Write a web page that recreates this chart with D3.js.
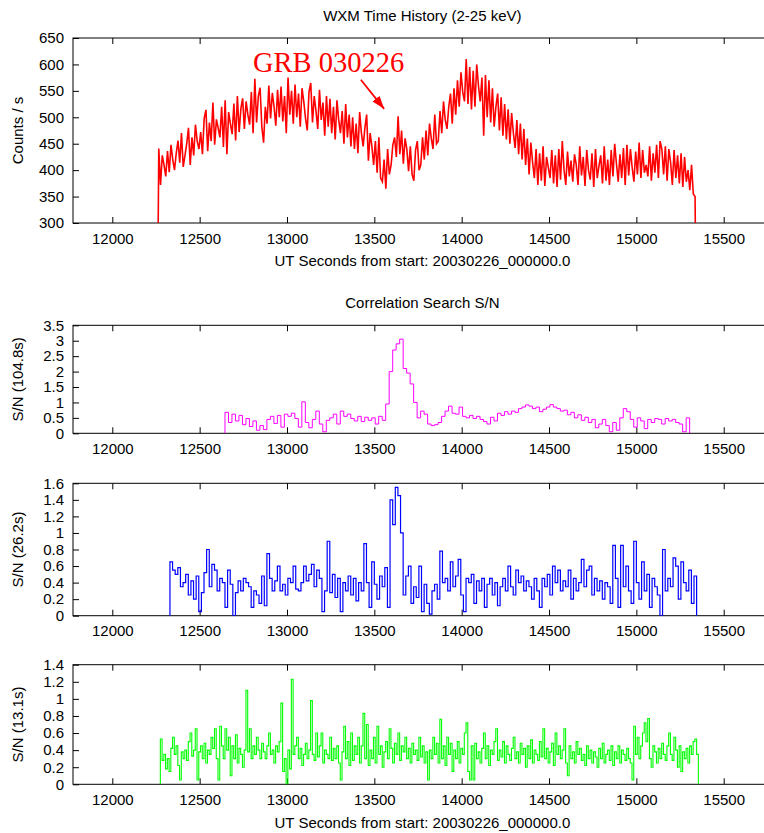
<!DOCTYPE html>
<html>
<head>
<meta charset="utf-8">
<script src="https://cdn.jsdelivr.net/npm/d3@7"></script>
<style>
  body { margin: 0; background: #fff; }
  svg { display: block; font-family: "Liberation Sans", Arial, Helvetica, sans-serif; }
</style>
</head>
<body>
<svg id="chart" width="764" height="833"></svg>
<script>
// ---- tick values ----
const xTicks = [12000, 12500, 13000, 13500, 14000, 14500, 15000, 15500];
const countTicks = [300, 350, 400, 450, 500, 550, 600, 650];
const sn104Ticks = [0, 0.5, 1, 1.5, 2, 2.5, 3, 3.5];
const sn26Ticks = [0, 0.2, 0.4, 0.6, 0.8, 1, 1.2, 1.4, 1.6];
const sn13Ticks = [0, 0.2, 0.4, 0.6, 0.8, 1, 1.2, 1.4];

// ---- WXM count rate (counts/s), 10 s bins ----
const countStart = 12256, countStep = 10;
const counts = [
  0, 441, 372, 428, 410, 388, 436, 396, 448, 420,
  400, 432, 456, 414, 470, 406, 428, 450, 480, 410,
  462, 428, 486, 455, 440, 472, 430, 498, 514, 436,
  490, 455, 528, 448, 496, 480, 462, 520, 444, 532,
  430, 510, 488, 468, 526, 456, 540, 472, 516, 536,
  478, 530, 505, 486, 548, 470, 573, 490, 540, 556,
  482, 452, 520, 488, 560, 498, 546, 520, 484, 552,
  500, 558, 492, 540, 470, 575, 505, 550, 488, 562,
  500, 545, 482, 555, 530, 498, 475, 548, 565, 490,
  540, 512, 478, 552, 495, 528, 465, 540, 482, 535,
  470, 520, 458, 532, 495, 470, 512, 450, 525, 462,
  505, 445, 500, 440, 488, 432, 510, 470, 445, 480,
  505, 418, 470, 445, 410, 455, 395, 462, 385, 378,
  420, 365, 440, 392, 410, 448, 462, 425, 502, 430,
  475, 412, 460, 440, 398, 445, 392, 380, 438, 455,
  400, 410, 462, 420, 475, 428, 488, 460, 440, 505,
  450, 455, 512, 470, 530, 495, 478, 520, 545, 488,
  555, 505, 570, 520, 585, 548, 530, 610, 525, 595,
  515, 588, 520, 600, 560, 530, 575, 465, 580, 500,
  570, 490, 555, 482, 520, 545, 475, 538, 465, 525,
  458, 515, 450, 508, 470, 442, 495, 430, 488, 420,
  478, 410, 460, 392, 452, 415, 385, 440, 372, 432,
  380, 445, 370, 425, 405, 385, 438, 375, 428, 368,
  440, 382, 455, 400, 372, 435, 388, 418, 378, 430,
  410, 372, 445, 390, 425, 370, 438, 400, 382, 432,
  368, 440, 385, 408, 428, 375, 445, 380, 420, 372,
  438, 388, 450, 412, 378, 430, 385, 442, 372, 448,
  390, 440, 405, 378, 435, 392, 452, 385, 438, 395,
  410, 388, 445, 380, 432, 395, 448, 385, 455, 440,
  392, 445, 380, 440, 415, 372, 438, 385, 428, 375,
  432, 368, 425, 378, 400, 362, 410, 355, 350, 0
];

// ---- correlation S/N, 104.8 s window (20 s steps) ----
const sn104Start = 12645, sn104Step = 20;
const sn104 = [
  0.68, 0.35, 0.62, 0.40, 0.58, 0.28, 0.48, 0.22, 0.40, 0.10,
  0.25, 0.12, 0.45, 0.55, 0.32, 0.58, 0.20, 0.62, 0.55, 0.65,
  0.48, 0.20, 1.02, 0.35, 0.18, 0.45, 0.72, 0.30, 0.05, 0.42,
  0.50, 0.62, 0.30, 0.72, 0.55, 0.62, 0.48, 0.40, 0.55, 0.38,
  0.52, 0.42, 0.50, 0.30, 0.55, 0.42, 0.95, 2.00, 2.70, 2.90,
  3.05, 2.10, 1.95, 1.60, 1.00, 0.50, 0.72, 0.62, 0.30, 0.25,
  0.28, 0.35, 0.55, 0.72, 0.88, 0.65, 0.62, 0.85, 0.55, 0.50,
  0.58, 0.48, 0.55, 0.45, 0.38, 0.30, 0.52, 0.40, 0.65, 0.58,
  0.70, 0.62, 0.72, 0.68, 0.80, 0.85, 0.92, 0.88, 0.80, 0.85,
  0.70, 0.78, 0.85, 0.93, 0.85, 0.80, 0.72, 0.75, 0.60, 0.68,
  0.50, 0.60, 0.42, 0.52, 0.35, 0.45, 0.18, 0.30, 0.45, 0.25,
  0.05, 0.35, 0.10, 0.50, 0.80, 0.70, 0.45, 0.20, 0.50, 0.40,
  0.15, 0.45, 0.35, 0.48, 0.45, 0.30, 0.48, 0.40, 0.45, 0.35,
  0.30, 0.05, 0.50
];

// ---- correlation S/N, 26.2 s window (15 s steps) ----
const sn26Start = 12330, sn26Step = 15;
const sn26 = [
  0.65, 0.55, 0.50, 0.58, 0.35, 0.40, 0.50, 0.25, 0.42, 0.20,
  0.48, 0.05, 0.28, 0.52, 0.80, 0.35, 0.62, 0.55, 0.30, 0.45,
  0.40, 0.10, 0.55, 0.38, 0.00, 0.28, 0.42, 0.30, 0.45, 0.40,
  0.35, 0.10, 0.30, 0.25, 0.15, 0.48, 0.12, 0.75, 0.45, 0.30,
  0.42, 0.60, 0.30, 0.38, 0.25, 0.45, 0.40, 0.60, 0.32, 0.30,
  0.40, 0.60, 0.42, 0.50, 0.62, 0.35, 0.55, 0.45, 0.05, 0.30,
  0.90, 0.28, 0.50, 0.22, 0.45, 0.05, 0.40, 0.30, 0.48, 0.25,
  0.45, 0.18, 0.40, 0.30, 0.87, 0.40, 0.10, 0.65, 0.38, 0.20,
  0.48, 0.35, 0.58, 0.10, 1.40, 1.10, 1.55, 1.45, 1.00, 0.25,
  0.48, 0.60, 0.15, 0.35, 0.22, 0.60, 0.05, 0.38, 0.15, 0.02,
  0.30, 0.38, 0.20, 0.78, 0.40, 0.45, 0.30, 0.65, 0.35, 0.48,
  0.68, 0.25, 0.05, 0.45, 0.40, 0.50, 0.15, 0.42, 0.30, 0.45,
  0.10, 0.38, 0.45, 0.25, 0.40, 0.12, 0.35, 0.45, 0.30, 0.60,
  0.35, 0.25, 0.55, 0.40, 0.48, 0.30, 0.42, 0.35, 0.20, 0.45,
  0.30, 0.10, 0.45, 0.35, 0.50, 0.25, 0.60, 0.40, 0.55, 0.30,
  0.42, 0.35, 0.55, 0.20, 0.45, 0.30, 0.40, 0.68, 0.35, 0.55,
  0.60, 0.25, 0.45, 0.30, 0.42, 0.20, 0.40, 0.35, 0.15, 0.85,
  0.45, 0.10, 0.85, 0.35, 0.60, 0.30, 0.15, 0.90, 0.40, 0.20,
  0.65, 0.30, 0.50, 0.10, 0.45, 0.35, 0.25, 0.00, 0.80, 0.30,
  0.45, 0.35, 0.70, 0.60, 0.20, 0.65, 0.40, 0.30, 0.55, 0.15,
  0.48
];

// ---- correlation S/N, 13.1 s window (10 s steps) ----
const sn13Start = 12275, sn13Step = 10;
const sn13 = [
  0.53, 0.28, 0.35, 0.18, 0.30, 0.15, 0.42, 0.55, 0.35, 0.45,
  0.22, 0.05, 0.38, 0.30, 0.40, 0.28, 0.50, 0.60, 0.33, 0.40,
  0.65, 0.05, 0.38, 0.45, 0.30, 0.48, 0.25, 0.40, 0.35, 0.55,
  0.42, 0.65, 0.30, 0.05, 0.68, 0.45, 0.30, 0.65, 0.40, 0.55,
  0.10, 0.45, 0.30, 0.58, 0.25, 0.42, 0.35, 0.20, 0.40, 1.10,
  0.38, 0.65, 0.30, 0.45, 0.35, 0.55, 0.40, 0.30, 0.48, 0.38,
  0.30, 0.45, 0.60, 0.35, 0.40, 0.25, 0.45, 0.38, 0.50, 0.95,
  0.15, 0.30, 0.00, 0.40, 0.18, 1.23, 0.35, 0.45, 0.55, 0.30,
  0.42, 0.22, 0.35, 0.48, 0.30, 0.40, 0.98, 0.35, 0.28, 0.60,
  0.32, 0.45, 0.60, 0.25, 0.40, 0.35, 0.30, 0.55, 0.28, 0.42,
  0.30, 0.45, 0.25, 0.05, 0.38, 0.68, 0.30, 0.50, 0.22, 0.60,
  0.28, 0.45, 0.35, 0.55, 0.25, 0.45, 0.83, 0.30, 0.70, 0.22,
  0.40, 0.30, 0.55, 0.25, 0.68, 0.35, 0.45, 0.20, 0.38, 0.50,
  0.30, 0.65, 0.42, 0.25, 0.48, 0.35, 0.60, 0.28, 0.45, 0.38,
  0.55, 0.30, 0.42, 0.25, 0.48, 0.35, 0.40, 0.28, 0.55, 0.32,
  0.45, 0.25, 0.38, 0.05, 0.40, 0.30, 0.55, 0.35, 0.48, 0.25,
  0.76, 0.30, 0.45, 0.22, 0.55, 0.35, 0.48, 0.15, 0.40, 0.30,
  0.50, 0.25, 0.42, 0.35, 0.60, 0.72, 0.15, 0.05, 0.45, 0.05,
  0.48, 0.30, 0.38, 0.25, 0.42, 0.60, 0.30, 0.45, 0.22, 0.40,
  0.35, 0.50, 0.65, 0.28, 0.40, 0.32, 0.50, 0.25, 0.45, 0.35,
  0.28, 0.42, 0.55, 0.30, 0.38, 0.25, 0.48, 0.35, 0.42, 0.20,
  0.45, 0.30, 0.52, 0.25, 0.40, 0.35, 0.28, 0.50, 0.32, 0.65,
  0.30, 0.42, 0.25, 0.38, 0.48, 0.22, 0.60, 0.35, 0.45, 0.30,
  0.40, 0.65, 0.25, 0.10, 0.45, 0.30, 0.38, 0.25, 0.50, 0.35,
  0.42, 0.28, 0.35, 0.22, 0.45, 0.30, 0.40, 0.25, 0.38, 0.32,
  0.20, 0.42, 0.30, 0.48, 0.25, 0.35, 0.40, 0.28, 0.45, 0.22,
  0.38, 0.30, 0.45, 0.25, 0.40, 0.35, 0.28, 0.42, 0.30, 0.25,
  0.05, 0.68, 0.35, 0.55, 0.30, 0.45, 0.60, 0.72, 0.50, 0.77,
  0.30, 0.20, 0.45, 0.38, 0.25, 0.42, 0.30, 0.48, 0.35, 0.28,
  0.45, 0.60, 0.35, 0.28, 0.55, 0.40, 0.20, 0.45, 0.15, 0.38,
  0.30, 0.42, 0.25, 0.45, 0.35, 0.50, 0.53, 0.35
];

// ---- layout ----
const svg = d3.select("#chart");
const FONT = 15;
const plotLeft = 73;
const x = d3.scaleLinear().domain([11775, 15775]).range([plotLeft, plotLeft + 4000 * 0.174686]);
const plotRight = x.range()[1];

const panels = [
  { id: "p0", top: 38,    bottom: 223,   domain: [300, 650], ticks: countTicks, label: "Counts / s" },
  { id: "p1", top: 325.3, bottom: 433.3, domain: [0, 3.5],   ticks: sn104Ticks, label: "S/N (104.8s)" },
  { id: "p2", top: 483.3, bottom: 615.7, domain: [0, 1.6],   ticks: sn26Ticks,  label: "S/N (26.2s)" },
  { id: "p3", top: 664.7, bottom: 784.3, domain: [0, 1.4],   ticks: sn13Ticks,  label: "S/N (13.1s)" }
];

const defs = svg.append("defs");
defs.append("marker")
  .attr("id", "head").attr("markerUnits", "userSpaceOnUse")
  .attr("markerWidth", 14).attr("markerHeight", 10)
  .attr("refX", 13).attr("refY", 4.5).attr("orient", "auto")
  .append("path").attr("d", "M0,0 L13,4.5 L0,9 Z").attr("fill", "#ff0000");

panels.forEach(p => {
  p.y = d3.scaleLinear().domain(p.domain).range([p.bottom, p.top]);
  defs.append("clipPath").attr("id", "clip-" + p.id)
    .append("rect").attr("x", plotLeft).attr("y", p.top)
    .attr("width", plotRight - plotLeft).attr("height", p.bottom - p.top);

  const g = svg.append("g");
  // bottom axis with inward ticks and labels
  g.append("g").attr("transform", `translate(0,${p.bottom})`)
    .call(d3.axisBottom(x).tickValues(xTicks).tickSize(-6).tickPadding(10).tickFormat(d3.format("d")))
    .call(a => a.select(".domain").remove())
    .call(a => a.selectAll("text").attr("font-size", FONT).attr("font-family", null).attr("fill", "#000"));
  // mirrored ticks along the top border
  g.append("g").attr("transform", `translate(0,${p.top})`)
    .call(d3.axisTop(x).tickValues(xTicks).tickSize(-6).tickFormat(""))
    .call(a => a.select(".domain").remove());
  // left axis
  g.append("g").attr("transform", `translate(${plotLeft},0)`)
    .call(d3.axisLeft(p.y).tickValues(p.ticks).tickSize(-6).tickPadding(9).tickFormat(d3.format("~g")))
    .call(a => a.select(".domain").remove())
    .call(a => a.selectAll("text").attr("font-size", FONT).attr("font-family", null).attr("fill", "#000"));
  // frame
  g.append("rect").attr("x", plotLeft).attr("y", p.top)
    .attr("width", plotRight - plotLeft).attr("height", p.bottom - p.top)
    .attr("fill", "none").attr("stroke", "#000").attr("stroke-width", 1);
  // y title
  g.append("text")
    .attr("transform", `translate(23,${(p.top + p.bottom) / 2}) rotate(-90)`)
    .attr("text-anchor", "middle").attr("font-size", FONT).text(p.label);
});

// ---- series ----
function stepPoints(start, step, values) {
  const n = values.length;
  const pts = [{ t: start, v: 0 }];
  values.forEach((v, i) => pts.push({ t: start + i * step, v }));
  pts.push({ t: start + n * step, v: values[n - 1] });
  pts.push({ t: start + n * step, v: 0 });
  return pts;
}

function drawSeries(p, pts, color, width, curve) {
  const line = d3.line().x(d => x(d.t)).y(d => p.y(d.v)).curve(curve);
  svg.append("path")
    .attr("clip-path", `url(#clip-${p.id})`)
    .attr("d", line(pts))
    .attr("fill", "none").attr("stroke", color)
    .attr("stroke-width", width).attr("stroke-linejoin", "miter");
}

drawSeries(panels[0], counts.map((v, i) => ({ t: countStart + i * countStep, v })), "#ff0000", 1.6, d3.curveLinear);
drawSeries(panels[1], stepPoints(sn104Start, sn104Step, sn104), "#ff00ff", 1, d3.curveStepAfter);
drawSeries(panels[2], stepPoints(sn26Start, sn26Step, sn26), "#0000ff", 1.2, d3.curveStepAfter);
drawSeries(panels[3], stepPoints(sn13Start, sn13Step, sn13), "#00ff00", 1.1, d3.curveStepAfter);

// ---- titles ----
const cx = (plotLeft + plotRight) / 2;
const xTitle = "UT Seconds from start: 20030226_000000.0";
svg.append("text").attr("x", cx).attr("y", 21).attr("text-anchor", "middle").attr("font-size", FONT).text("WXM Time History (2-25 keV)");
svg.append("text").attr("x", cx).attr("y", 266).attr("text-anchor", "middle").attr("font-size", FONT).text(xTitle);
svg.append("text").attr("x", cx).attr("y", 308).attr("text-anchor", "middle").attr("font-size", FONT).text("Correlation Search S/N");
svg.append("text").attr("x", cx).attr("y", 828).attr("text-anchor", "middle").attr("font-size", FONT).text(xTitle);

// ---- burst annotation ----
const p0 = panels[0];
svg.append("text")
  .attr("x", x(12805)).attr("y", p0.y(586))
  .attr("font-family", "'Liberation Serif', 'Times New Roman', serif")
  .attr("font-size", 28.5).attr("fill", "#ff0000")
  .text("GRB 030226");
svg.append("line")
  .attr("x1", x(13423)).attr("y1", p0.y(571))
  .attr("x2", x(13556)).attr("y2", p0.y(516))
  .attr("stroke", "#ff0000").attr("stroke-width", 1.8)
  .attr("marker-end", "url(#head)");
</script>
</body>
</html>
